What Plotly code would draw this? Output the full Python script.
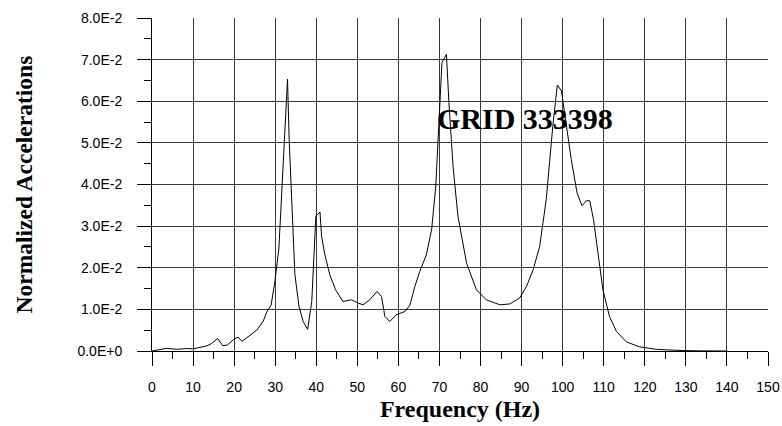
import plotly.graph_objects as go

# Frequency response at GRID 333398
freq_hz = [0, 1.5, 3.6, 6, 8.4, 9.9, 11.5, 13.3, 14.5, 16, 17.2, 18.3, 20.2, 21, 21.9,
           24.2, 25.5, 27.1, 28, 29, 29.9, 30.9, 31.9, 32.5, 33, 33.4, 34.1, 34.8,
           35.8, 36.8, 37.9, 38.9, 39.9, 40.9, 41.3, 42.1, 43.3, 44.7, 46.5, 48.6,
           50.2, 51.4, 53, 54.8, 55.9, 56.7, 57.9, 59.5, 61.6, 62.8, 64, 65.2, 66.8,
           68.1, 69.1, 69.9, 70.6, 71.7, 72.3, 73.3, 74.5, 76.6, 79, 81.4, 84.7, 87.1,
           89.5, 91.2, 92.8, 94.4, 96, 97.6, 98.7, 99.7, 100.9, 102.1, 103.5, 104.7,
           105.8, 106.6, 107.5, 108.6, 109.8, 111.4, 113.1, 115.5, 118.7, 122.8,
           126, 129.3, 134, 140]
norm_accel = [0.0, 0.0003, 0.00065, 0.0004, 0.0006, 0.0005, 0.0008, 0.0012, 0.0018,
              0.003, 0.0013, 0.0014, 0.003, 0.0033, 0.0023, 0.0039, 0.005, 0.0072,
              0.0095, 0.011, 0.0165, 0.0247, 0.0428, 0.054, 0.0653, 0.0508, 0.0332,
              0.0183, 0.0107, 0.0071, 0.0052, 0.0119, 0.0324, 0.0334, 0.0275, 0.0231,
              0.0183, 0.0147, 0.0119, 0.0123, 0.0115, 0.0111, 0.0123, 0.0143, 0.0131,
              0.0083, 0.0071, 0.0087, 0.0095, 0.011, 0.0155, 0.0191, 0.0231, 0.0292,
              0.0396, 0.0565, 0.0693, 0.0713, 0.0597, 0.0444, 0.0324, 0.0211, 0.0147,
              0.0123, 0.0111, 0.0113, 0.0127, 0.0155, 0.0195, 0.0251, 0.0364, 0.054,
              0.0639, 0.0625, 0.054, 0.046, 0.038, 0.0349, 0.0361, 0.0361, 0.0316,
              0.0235, 0.0147, 0.0083, 0.0047, 0.0022, 0.001, 0.0004, 0.0002, 0.0001,
              0.00003, 0.0]

y_tick_vals = [0.0, 0.01, 0.02, 0.03, 0.04, 0.05, 0.06, 0.07, 0.08]
y_tick_text = ["0.0E+0", "1.0E-2", "2.0E-2", "3.0E-2", "4.0E-2",
               "5.0E-2", "6.0E-2", "7.0E-2", "8.0E-2"]
x_tick_vals = list(range(0, 151, 10))
x_tick_text = [str(v) for v in x_tick_vals]

serif_bold = "Liberation Serif"
sans = "Liberation Sans"
grid_col = "#3a3a3a"

fig = go.Figure()
fig.add_trace(go.Scatter(
    x=freq_hz, y=norm_accel, mode="lines",
    line=dict(color="black", width=1), showlegend=False,
))

fig.update_layout(
    width=782, height=426,
    margin=dict(l=152, r=14, t=18, b=75),
    paper_bgcolor="white", plot_bgcolor="white",
    xaxis=dict(
        range=[0, 150], tickmode="array", tickvals=x_tick_vals,
        ticktext=x_tick_text, automargin=False,
        ticks="outside", ticklen=14, tickwidth=1, tickcolor="black",
        showgrid=True, gridcolor=grid_col, gridwidth=1,
        showline=True, linecolor="black", linewidth=1, zeroline=False,
        tickfont=dict(family=sans, size=14, color="black"),
        ticklabelstandoff=9,
        minor=dict(tickmode="linear", tick0=0, dtick=5, ticks="outside",
                   ticklen=7, tickcolor="black", showgrid=False),
        title=dict(text="<b>Frequency (Hz)</b>",
                   font=dict(family=serif_bold, size=24, color="black"),
                   standoff=6),
    ),
    yaxis=dict(
        range=[0, 0.08], tickmode="array", tickvals=y_tick_vals,
        ticktext=y_tick_text, automargin=False,
        ticks="outside", ticklen=14, tickwidth=1, tickcolor="black",
        showgrid=True, gridcolor=grid_col, gridwidth=1,
        showline=True, linecolor="black", linewidth=1, zeroline=False,
        tickfont=dict(family=sans, size=14, color="black"),
        ticklabelstandoff=12,
        minor=dict(tickmode="linear", tick0=0, dtick=0.005, ticks="outside",
                   ticklen=7, tickcolor="black", showgrid=False),
    ),
)

# Vertical axis title
fig.add_annotation(
    x=-0.2078, y=0.5, xref="paper", yref="paper",
    text="<b>Normalized Accelerations</b>", textangle=-90, showarrow=False,
    font=dict(family=serif_bold, size=23.5, color="black"),
    xanchor="center", yanchor="middle",
)

fig.add_annotation(
    x=0.605, y=0.698, xref="paper", yref="paper",
    text="<b>GRID 333398</b>", showarrow=False,
    font=dict(family=serif_bold, size=30, color="black"),
    xanchor="center", yanchor="middle",
)

fig.write_html("out.html")
